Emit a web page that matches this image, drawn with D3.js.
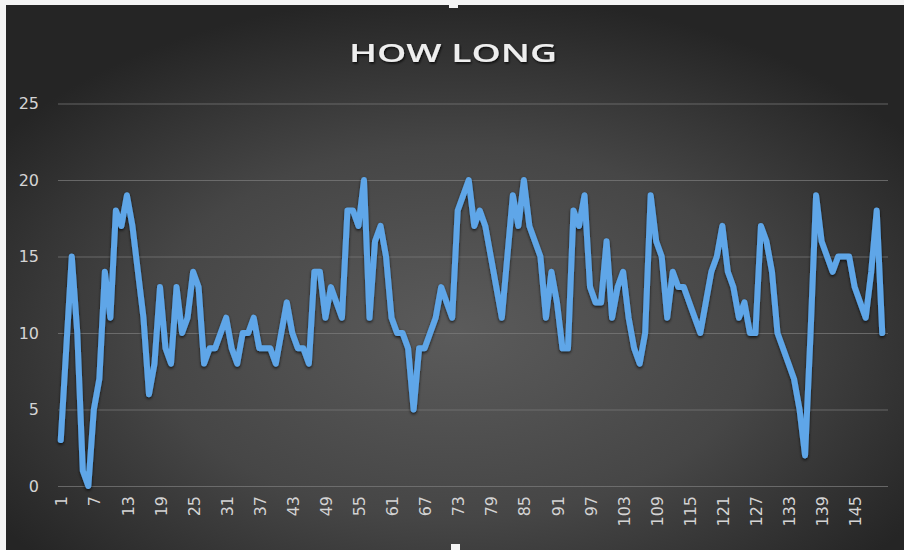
<!DOCTYPE html>
<html>
<head>
<meta charset="utf-8">
<script src="https://cdn.jsdelivr.net/npm/d3@7"></script>
<style>
  html, body { margin: 0; padding: 0; background: #ffffff; }
  svg { display: block; }
</style>
</head>
<body>
<svg id="chart" width="904" height="550"></svg>
<script>
// Series: minutes per entry, one value per record
const values = [
  3, 9, 15, 10, 1, 0, 5, 7, 14, 11,
  18, 17, 19, 17, 14, 11, 6, 8, 13, 9,
  8, 13, 10, 11, 14, 13, 8, 9, 9, 10,
  11, 9, 8, 10, 10, 11, 9, 9, 9, 8,
  10, 12, 10, 9, 9, 8, 14, 14, 11, 13,
  12, 11, 18, 18, 17, 20, 11, 16, 17, 15,
  11, 10, 10, 9, 5, 9, 9, 10, 11, 13,
  12, 11, 18, 19, 20, 17, 18, 17, 15, 13,
  11, 15, 19, 17, 20, 17, 16, 15, 11, 14,
  12, 9, 9, 18, 17, 19, 13, 12, 12, 16,
  11, 13, 14, 11, 9, 8, 10, 19, 16, 15,
  11, 14, 13, 13, 12, 11, 10, 12, 14, 15,
  17, 14, 13, 11, 12, 10, 10, 17, 16, 14,
  10, 9, 8, 7, 5, 2, 10, 19, 16, 15,
  14, 15, 15, 15, 13, 12, 11, 14, 18, 10
];
const categories = values.map((_, i) => String(i + 1));
const xTickLabels = ["1", "7", "13", "19", "25", "31", "37", "43", "49", "55", "61", "67", "73",
  "79", "85", "91", "97", "103", "109", "115", "121", "127", "133", "139", "145"];
const yTickValues = [0, 5, 10, 15, 20, 25];
const chartTitle = "HOW LONG";

const W = 904, H = 550;
const plot = { left: 58, right: 885, top: 103.5, bottom: 486 };

const svg = d3.select("#chart");
const defs = svg.append("defs");

// Dark radial background
const bg = defs.append("radialGradient")
  .attr("id", "bgGrad")
  .attr("cx", "50%").attr("cy", "60%").attr("r", "62%");
bg.append("stop").attr("offset", "0%").attr("stop-color", "#5b5b5b");
bg.append("stop").attr("offset", "55%").attr("stop-color", "#464646");
bg.append("stop").attr("offset", "100%").attr("stop-color", "#252525");

const lineShadow = defs.append("filter").attr("id", "lineShadow")
  .attr("x", "-5%").attr("y", "-10%").attr("width", "110%").attr("height", "120%");
lineShadow.append("feDropShadow")
  .attr("dx", 0).attr("dy", 1.5).attr("stdDeviation", 1.6)
  .attr("flood-color", "#000000").attr("flood-opacity", 0.75);

const textShadow = defs.append("filter").attr("id", "textShadow");
textShadow.append("feDropShadow")
  .attr("dx", 1).attr("dy", 1.5).attr("stdDeviation", 1.2)
  .attr("flood-color", "#000000").attr("flood-opacity", 0.8);

// Frame: white sheet edge, then chart area
svg.append("rect").attr("x", 0).attr("y", 0).attr("width", W).attr("height", H).attr("fill", "#f4f4f4");
svg.append("rect").attr("x", 6).attr("y", 5).attr("width", W - 6).attr("height", H - 5)
  .attr("fill", "url(#bgGrad)");

// Selection handles on the frame
svg.append("rect").attr("x", 449).attr("y", 0).attr("width", 9).attr("height", 8)
  .attr("fill", "#f4f4f4");
svg.append("rect").attr("x", 451).attr("y", 544).attr("width", 9).attr("height", 6)
  .attr("fill", "#f4f4f4");

// Scales
const x = d3.scaleBand().domain(categories).range([plot.left, plot.right]);
const y = d3.scaleLinear().domain([0, 25]).range([plot.bottom, plot.top]);
const cx = c => x(c) + x.bandwidth() / 2;

// Horizontal gridlines + y labels
const yAxis = d3.axisLeft(y)
  .tickValues(yTickValues)
  .tickSize(-(plot.right - plot.left) - 3)
  .tickPadding(19)
  .tickFormat(d3.format("d"));
const gy = svg.append("g")
  .attr("transform", `translate(${plot.left},0)`)
  .call(yAxis);
gy.select(".domain").remove();
gy.selectAll(".tick line")
  .attr("stroke", "#7a7a7a").attr("stroke-opacity", 0.75).attr("stroke-width", 1);
gy.selectAll(".tick text")
  .attr("fill", "#d4d4d4")
  .attr("font-family", "'DejaVu Sans', sans-serif")
  .attr("font-size", 16);

// Category axis, labels rotated
const xAxis = d3.axisBottom(x)
  .tickValues(xTickLabels)
  .tickSize(0)
  .tickPadding(0);
const gx = svg.append("g")
  .attr("transform", `translate(0,${plot.bottom})`)
  .call(xAxis);
gx.select(".domain").remove();
gx.selectAll(".tick text")
  .attr("fill", "#d4d4d4")
  .attr("font-family", "'DejaVu Sans', sans-serif")
  .attr("font-size", 16)
  .attr("text-anchor", "end")
  .attr("dy", "0.35em")
  .attr("transform", "translate(1,10) rotate(-90)");

// Series line
const line = d3.line()
  .x((d, i) => cx(categories[i]))
  .y(d => y(d))
  .curve(d3.curveLinear);
svg.append("path")
  .datum(values)
  .attr("d", line)
  .attr("fill", "none")
  .attr("stroke", "#5ea6e8")
  .attr("stroke-width", 6)
  .attr("stroke-linejoin", "round")
  .attr("stroke-linecap", "round")
  .attr("filter", "url(#lineShadow)");

// Title
svg.append("text")
  .attr("x", 453)
  .attr("y", 62)
  .attr("text-anchor", "middle")
  .attr("font-family", "'Open Sans', sans-serif")
  .attr("font-weight", 600)
  .attr("font-size", 25)
  .attr("textLength", 208)
  .attr("lengthAdjust", "spacingAndGlyphs")
  .attr("fill", "#eeeeee")
  .attr("filter", "url(#textShadow)")
  .text(chartTitle);
</script>
</body>
</html>
